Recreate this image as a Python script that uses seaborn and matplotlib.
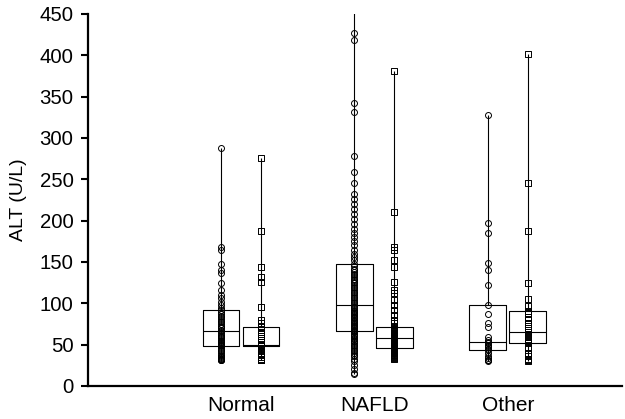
import numpy as np
import pandas as pd
import matplotlib
matplotlib.use('Agg')
import matplotlib.pyplot as plt
import seaborn as sns

groups = ['Normal', 'NAFLD', 'Other']
methods = ['circle', 'square']

normal_circle = [32, 32, 32, 33, 33, 34, 35, 36, 38, 40, 42, 44, 46, 48,
                 49, 50, 51, 52, 53, 55, 56, 58, 59, 61, 62, 64, 66,
                 68, 70, 71, 73, 75, 77, 79, 81, 83, 85, 87, 89, 92,
                 94, 98, 102, 106, 110, 116, 125, 137, 140, 147, 165, 168, 288]
normal_square = [32, 32, 33, 35, 37, 40, 43, 46, 48,
                 48, 48, 49, 49, 49, 50, 50, 50,
                 53, 56, 58, 61, 63, 65, 68, 71,
                 76, 80, 96, 126, 132, 144, 187, 276]
nafld_circle = [15, 16, 20, 25, 30, 33, 36, 38, 40, 42, 44, 46, 48, 50, 52,
                54, 55, 57, 58, 60, 61, 62, 63, 65, 66,
                67, 68, 70, 71, 72, 74, 75, 76, 78, 79, 80, 82, 83, 84, 86,
                87, 88, 90, 91, 92, 94, 95, 96, 98,
                100, 102, 104, 106, 108, 110, 112, 114, 116, 118, 120, 122,
                124, 126, 128, 130, 132, 134, 136, 138, 140, 142, 145, 147,
                152, 156, 160, 165, 170, 175, 180, 185, 190, 196, 202, 208,
                214, 220, 226, 232, 246, 259, 278, 331, 342, 418, 427, 470]
nafld_square = [33, 34, 35, 36, 37, 38, 39, 40, 40, 41, 42, 43, 44, 44, 45, 46,
                47, 48, 48, 49, 50, 51, 52, 52, 53, 54, 55, 55, 56, 57, 58,
                59, 60, 61, 62, 62, 63, 64, 65, 66, 66, 67, 68, 69, 70, 71,
                76, 80, 86, 92, 98, 104, 112, 116, 126, 144, 153, 165, 168, 210, 381]
other_circle = [30, 31, 32, 34, 36, 40, 43,
                45, 47, 48, 50, 52, 53,
                56, 59, 71, 76, 87, 98,
                122, 140, 149, 185, 197, 328]
other_square = [30, 31, 33, 36, 40, 46, 52,
                55, 57, 59, 61, 63, 65,
                70, 75, 80, 84, 88, 91,
                97, 105, 125, 188, 245, 402]

series = {
    ('Normal', 'circle'): normal_circle,
    ('Normal', 'square'): normal_square,
    ('NAFLD', 'circle'): nafld_circle,
    ('NAFLD', 'square'): nafld_square,
    ('Other', 'circle'): other_circle,
    ('Other', 'square'): other_square,
}

# side-by-side placement inside each category
offsets = {'circle': -0.15, 'square': 0.15}
markers = {'circle': 'o', 'square': 's'}

rows = []
for gi, g in enumerate(groups):
    for m in methods:
        for v in series[(g, m)]:
            rows.append({'group': g, 'method': m, 'pos': round(gi + offsets[m], 2), 'alt': v})
df = pd.DataFrame(rows)

sns.set_style('ticks')
plt.rcParams['font.family'] = ['Liberation Sans', 'DejaVu Sans']

fig = plt.figure(figsize=(6.25, 4.19), dpi=100)
ax = fig.add_axes([0.1408, 0.0788, 0.8542, 0.8878])

sns.boxplot(data=df, x='pos', y='alt', native_scale=True, orient='x',
            whis=(0, 100), showfliers=False, showcaps=False, width=0.92,
            fill=False, color='black', linewidth=0.8, ax=ax)

for m in methods:
    sub = df[df['method'] == m]
    sns.stripplot(data=sub, x='pos', y='alt', native_scale=True, orient='x',
                  jitter=False, marker=markers[m], size=4.3,
                  color=(1, 1, 1, 0), edgecolor='black', linewidth=0.7, ax=ax)

ax.set_ylim(0, 450)
ax.set_yticks(np.arange(0, 451, 50))
ax.set_xlim(-1.146, 2.854)
ax.set_xticks(range(len(groups)))
ax.set_xticklabels(groups, fontsize=15)
ax.set_xlabel('')
ax.set_ylabel('ALT (U/L)', fontsize=14, labelpad=9, color='black')
ax.tick_params(axis='y', labelsize=14.7, length=5, width=1.5, pad=5.5,
               color='black', labelcolor='black')
ax.tick_params(axis='x', length=0, pad=7, labelcolor='black')

for side in ['top', 'right']:
    ax.spines[side].set_visible(False)
for side in ['left', 'bottom']:
    ax.spines[side].set_linewidth(1.6)
    ax.spines[side].set_color('black')

fig.savefig('out.png', dpi=100)
